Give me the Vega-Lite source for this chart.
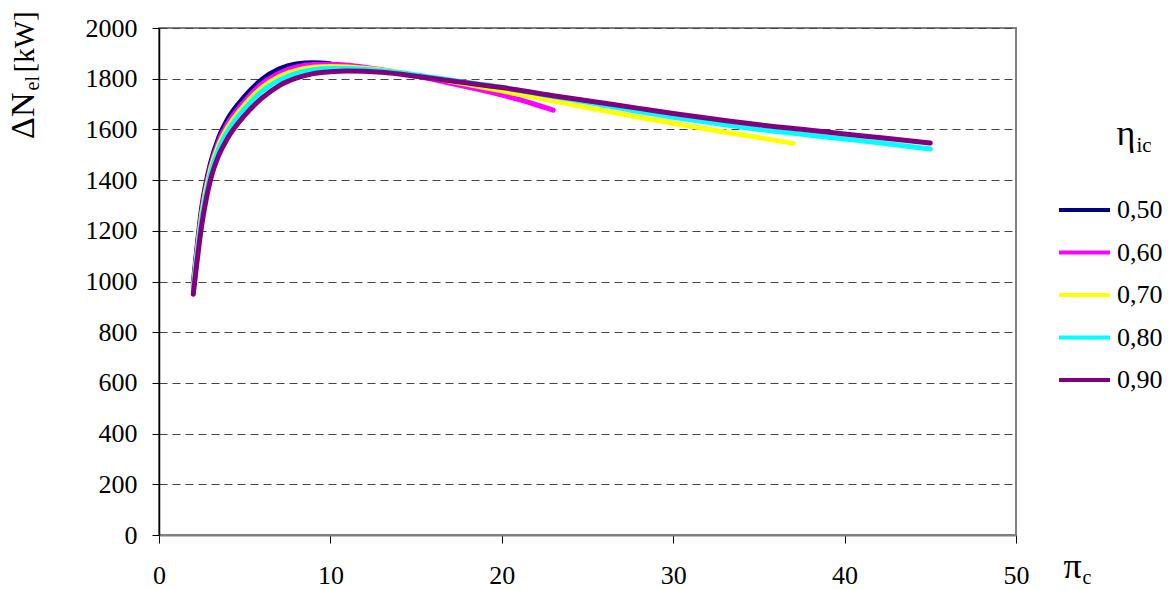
{
  "$schema": "https://vega.github.io/schema/vega-lite/v6.json",
  "width": 857,
  "height": 507,
  "autosize": {"type": "none"},
  "padding": {"left": 159, "top": 28, "right": 156, "bottom": 55},
  "background": "white",
  "data": {"values": [
    {"eta":"0,50","pi":2,"N":990},{"eta":"0,50","pi":2.5,"N":1295},{"eta":"0,50","pi":3,"N":1465},{"eta":"0,50","pi":3.5,"N":1570},{"eta":"0,50","pi":4,"N":1640},{"eta":"0,50","pi":5,"N":1730},{"eta":"0,50","pi":6,"N":1797},{"eta":"0,50","pi":7,"N":1838},{"eta":"0,50","pi":8,"N":1858},{"eta":"0,50","pi":9,"N":1863},{"eta":"0,50","pi":10,"N":1859},
    {"eta":"0,60","pi":2,"N":980},{"eta":"0,60","pi":2.5,"N":1282},{"eta":"0,60","pi":3,"N":1452},{"eta":"0,60","pi":3.5,"N":1556},{"eta":"0,60","pi":4,"N":1622},{"eta":"0,60","pi":5,"N":1712},{"eta":"0,60","pi":6,"N":1780},{"eta":"0,60","pi":7,"N":1822},{"eta":"0,60","pi":8,"N":1846},{"eta":"0,60","pi":9,"N":1856},{"eta":"0,60","pi":10,"N":1857},{"eta":"0,60","pi":11,"N":1853},{"eta":"0,60","pi":12,"N":1845},{"eta":"0,60","pi":13,"N":1835},{"eta":"0,60","pi":15,"N":1810},{"eta":"0,60","pi":17,"N":1782},{"eta":"0,60","pi":19,"N":1752},{"eta":"0,60","pi":21,"N":1718},{"eta":"0,60","pi":23,"N":1676},
    {"eta":"0,70","pi":2,"N":972},{"eta":"0,70","pi":2.5,"N":1268},{"eta":"0,70","pi":3,"N":1440},{"eta":"0,70","pi":3.5,"N":1542},{"eta":"0,70","pi":4,"N":1607},{"eta":"0,70","pi":5,"N":1697},{"eta":"0,70","pi":6,"N":1765},{"eta":"0,70","pi":7,"N":1808},{"eta":"0,70","pi":8,"N":1833},{"eta":"0,70","pi":9,"N":1845},{"eta":"0,70","pi":10,"N":1848},{"eta":"0,70","pi":11,"N":1846},{"eta":"0,70","pi":12,"N":1841},{"eta":"0,70","pi":13,"N":1834},{"eta":"0,70","pi":15,"N":1815},{"eta":"0,70","pi":17,"N":1790},{"eta":"0,70","pi":20,"N":1752},{"eta":"0,70","pi":23,"N":1712},{"eta":"0,70","pi":25,"N":1686},{"eta":"0,70","pi":28,"N":1648},{"eta":"0,70","pi":30,"N":1624},{"eta":"0,70","pi":33,"N":1590},{"eta":"0,70","pi":35,"N":1568},{"eta":"0,70","pi":37,"N":1545},
    {"eta":"0,80","pi":2,"N":962},{"eta":"0,80","pi":2.5,"N":1252},{"eta":"0,80","pi":3,"N":1425},{"eta":"0,80","pi":3.5,"N":1527},{"eta":"0,80","pi":4,"N":1592},{"eta":"0,80","pi":5,"N":1682},{"eta":"0,80","pi":6,"N":1750},{"eta":"0,80","pi":7,"N":1794},{"eta":"0,80","pi":8,"N":1821},{"eta":"0,80","pi":9,"N":1835},{"eta":"0,80","pi":10,"N":1840},{"eta":"0,80","pi":11,"N":1840},{"eta":"0,80","pi":12,"N":1837},{"eta":"0,80","pi":13,"N":1831},{"eta":"0,80","pi":15,"N":1815},{"eta":"0,80","pi":17,"N":1795},{"eta":"0,80","pi":20,"N":1766},{"eta":"0,80","pi":23,"N":1730},{"eta":"0,80","pi":25,"N":1707},{"eta":"0,80","pi":28,"N":1670},{"eta":"0,80","pi":30,"N":1648},{"eta":"0,80","pi":33,"N":1618},{"eta":"0,80","pi":35,"N":1600},{"eta":"0,80","pi":38,"N":1577},{"eta":"0,80","pi":40,"N":1562},{"eta":"0,80","pi":42,"N":1547},{"eta":"0,80","pi":45,"N":1523},
    {"eta":"0,90","pi":2,"N":950},{"eta":"0,90","pi":2.5,"N":1225},{"eta":"0,90","pi":3,"N":1400},{"eta":"0,90","pi":3.5,"N":1500},{"eta":"0,90","pi":4,"N":1565},{"eta":"0,90","pi":5,"N":1655},{"eta":"0,90","pi":6,"N":1723},{"eta":"0,90","pi":7,"N":1772},{"eta":"0,90","pi":8,"N":1802},{"eta":"0,90","pi":9,"N":1820},{"eta":"0,90","pi":10,"N":1827},{"eta":"0,90","pi":11,"N":1830},{"eta":"0,90","pi":12,"N":1829},{"eta":"0,90","pi":13,"N":1825},{"eta":"0,90","pi":15,"N":1810},{"eta":"0,90","pi":17,"N":1792},{"eta":"0,90","pi":20,"N":1765},{"eta":"0,90","pi":23,"N":1733},{"eta":"0,90","pi":25,"N":1713},{"eta":"0,90","pi":28,"N":1683},{"eta":"0,90","pi":30,"N":1663},{"eta":"0,90","pi":33,"N":1635},{"eta":"0,90","pi":35,"N":1618},{"eta":"0,90","pi":38,"N":1597},{"eta":"0,90","pi":40,"N":1582},{"eta":"0,90","pi":42,"N":1568},{"eta":"0,90","pi":45,"N":1546}
  ]},
  "layer": [
    {
      "mark": {"type": "line", "strokeWidth": 5, "strokeCap": "round", "strokeJoin": "round", "interpolate": "monotone"},
      "encoding": {
        "x": {"field": "pi", "type": "quantitative", "scale": {"domain": [0, 50], "nice": false},
          "axis": {"orient": "bottom", "values": [0, 10, 20, 30, 40, 50], "format": "d", "grid": false, "tickSize": 8, "tickColor": "#000", "tickWidth": 1, "domainColor": "#808080", "domainWidth": 2, "labelPadding": 19,
            "title": "π", "titleX": 904, "titleY": 42, "titleAlign": "left", "titleBaseline": "alphabetic", "titleAngle": 0, "titleFontSize": 36}},
        "y": {"field": "N", "type": "quantitative", "scale": {"domain": [0, 2000], "nice": false},
          "axis": {"orient": "left", "values": [0, 200, 400, 600, 800, 1000, 1200, 1400, 1600, 1800, 2000], "format": "d", "grid": true, "gridColor": "#444", "gridDash": [8, 5], "gridWidth": 1, "tickSize": 7, "tickColor": "#000", "domainColor": "#000", "domainWidth": 1.5, "labelPadding": 15, "labelBaseline": "middle",
            "title": "ΔN", "titleX": -126, "titleY": 64, "titleAlign": "right", "titleBaseline": "alphabetic", "titleAngle": -90, "titleFontSize": 34}},
        "color": {"field": "eta", "type": "nominal",
          "scale": {"domain": ["0,50", "0,60", "0,70", "0,80", "0,90"], "range": ["#000080", "#FF00FF", "#FFFF00", "#00FFFF", "#800080"]},
          "legend": {"orient": "none", "legendX": 898, "legendY": 168, "title": null, "symbolType": "stroke", "symbolSize": 2601, "symbolStrokeWidth": 4, "clipHeight": 28, "rowPadding": 14.5, "labelFont": "Liberation Serif", "labelFontSize": 26, "labelColor": "#000", "labelOffset": 5, "padding": 0}}
      }
    },
    {
      "mark": {"type": "point", "opacity": 0},
      "encoding": {
        "x": {"field": "pi", "type": "quantitative", "scale": {"domain": [0, 50], "nice": false},
          "axis": {"orient": "bottom", "labels": false, "ticks": false, "domain": false, "grid": false,
            "title": "c", "titleX": 923, "titleY": 48, "titleAlign": "left", "titleBaseline": "alphabetic", "titleAngle": 0, "titleFontSize": 20}},
        "y": {"field": "N", "type": "quantitative", "scale": {"domain": [0, 2000], "nice": false},
          "axis": {"orient": "left", "labels": false, "ticks": false, "domain": false, "grid": false,
            "title": "el", "titleX": -121, "titleY": 62, "titleAlign": "left", "titleBaseline": "alphabetic", "titleAngle": -90, "titleFontSize": 20}}
      }
    },
    {
      "mark": {"type": "point", "opacity": 0},
      "encoding": {
        "x": {"field": "pi", "type": "quantitative", "scale": {"domain": [0, 50], "nice": false}, "axis": null},
        "y": {"field": "N", "type": "quantitative", "scale": {"domain": [0, 2000], "nice": false},
          "axis": {"orient": "left", "labels": false, "ticks": false, "domain": false, "grid": false,
            "title": "[kW]", "titleX": -126, "titleY": 44, "titleAlign": "left", "titleBaseline": "alphabetic", "titleAngle": -90, "titleFontSize": 29}}
      }
    },
    {
      "mark": {"type": "point", "opacity": 0},
      "encoding": {
        "x": {"field": "pi", "type": "quantitative", "scale": {"domain": [0, 50], "nice": false}, "axis": null},
        "y": {"field": "N", "type": "quantitative", "scale": {"domain": [0, 2000], "nice": false},
          "axis": {"orient": "right", "labels": false, "ticks": false, "domain": false, "grid": false,
            "title": "η", "titleX": 100, "titleY": 116, "titleAlign": "left", "titleBaseline": "alphabetic", "titleAngle": 0, "titleFontSize": 36}}
      }
    },
    {
      "mark": {"type": "point", "opacity": 0},
      "encoding": {
        "x": {"field": "pi", "type": "quantitative", "scale": {"domain": [0, 50], "nice": false}, "axis": null},
        "y": {"field": "N", "type": "quantitative", "scale": {"domain": [0, 2000], "nice": false},
          "axis": {"orient": "right", "labels": false, "ticks": false, "domain": false, "grid": false,
            "title": "ic", "titleX": 120, "titleY": 123, "titleAlign": "left", "titleBaseline": "alphabetic", "titleAngle": 0, "titleFontSize": 21}}
      }
    }
  ],
  "resolve": {"scale": {"x": "independent", "y": "independent"}},
  "config": {
    "view": {"stroke": "#808080", "strokeWidth": 2},
    "axis": {"labelFont": "Liberation Serif", "labelFontSize": 26, "labelColor": "#000", "titleFont": "Liberation Serif", "titleColor": "#000", "titleFontWeight": "normal", "labelFlush": false, "labelOverlap": false}
  }
}
